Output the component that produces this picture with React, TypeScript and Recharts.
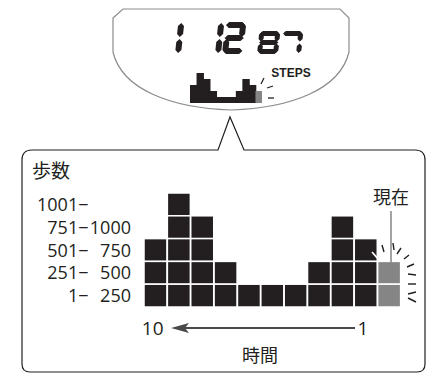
import { Bar, BarChart, XAxis, YAxis } from "recharts";

const INK = "#231f20";
const GRAY = "#858585";
const FONT = '"Noto Sans CJK JP", "Noto Sans", sans-serif';
const NUM_FONT = '"Open Sans", "Noto Sans", sans-serif';

// time slots, oldest (10) to current
const periods = ["10", "9", "8", "7", "6", "5", "4", "3", "2", "1", "現在"];
const stepLevels = [3, 5, 4, 2, 1, 1, 1, 2, 4, 3, 2];
const isCurrent = [false, false, false, false, false, false, false, false, false, false, true];

const rowTicks = [0.5, 1.5, 2.5, 3.5, 4.5];
const rangeLow = ["1−", "251−", "501−", "751−", "1001−"];
const rangeHigh = ["250", "500", "750", "1000", ""];
const shownPeriods = ["10", "1"];

const bigDigits = ["1", "1", "2"];
const smallDigits = ["8", "7"];

const data = periods.map((period, i) => ({ period, level: stepLevels[i], current: isCurrent[i] }));

const SEGMENTS: Record<string, string> = { "1": "bc", "2": "abged", "7": "abc", "8": "abcdefg" };

function hSeg(x1: number, x2: number, y: number, t: number) {
  return `${x1},${y} ${x1 + t / 2},${y - t / 2} ${x2 - t / 2},${y - t / 2} ${x2},${y} ${x2 - t / 2},${y + t / 2} ${x1 + t / 2},${y + t / 2}`;
}

function vSeg(x: number, y1: number, y2: number, t: number) {
  return `${x},${y1} ${x + t / 2},${y1 + t / 2} ${x + t / 2},${y2 - t / 2} ${x},${y2} ${x - t / 2},${y2 - t / 2} ${x - t / 2},${y1 + t / 2}`;
}

function SegDigit({ ch, x, y, w, h, t }: { ch: string; x: number; y: number; w: number; h: number; t: number }) {
  const g = 0.9;
  const segs: Record<string, string> = {
    a: hSeg(x + g, x + w - g, y + t / 2, t),
    b: vSeg(x + w - t / 2, y + g, y + h / 2 - g, t),
    c: vSeg(x + w - t / 2, y + h / 2 + g, y + h - g, t),
    d: hSeg(x + g, x + w - g, y + h - t / 2, t),
    e: vSeg(x + t / 2, y + h / 2 + g, y + h - g, t),
    f: vSeg(x + t / 2, y + g, y + h / 2 - g, t),
    g: hSeg(x + g, x + w - g, y + h / 2, t),
  };
  const base = y + h;
  return (
    <g transform={`translate(0,${base}) skewX(-6) translate(0,${-base})`}>
      {SEGMENTS[ch].split("").map((s) => (
        <polygon key={s} points={segs[s]} fill={INK} />
      ))}
    </g>
  );
}

function CellBar(props: any) {
  const { x, y, width, height, payload } = props;
  const n = payload.level;
  const cell = height / n;
  const fill = payload.current ? GRAY : INK;
  return (
    <g>
      {Array.from({ length: n }).map((_, i) => (
        <rect key={i} x={x} y={y + i * cell} width={width} height={cell} fill={fill} stroke="#fff" strokeWidth={1.5} />
      ))}
    </g>
  );
}

function RangeTick(props: any) {
  const { y, payload } = props;
  const i = rowTicks.indexOf(payload.value);
  return (
    <g fontFamily={NUM_FONT} fontSize={18} fill={INK}>
      <text x={88.5} y={y} dy="0.37em" textAnchor="end">{rangeLow[i]}</text>
      <text x={131} y={y} dy="0.37em" textAnchor="end">{rangeHigh[i]}</text>
    </g>
  );
}

function PeriodTick(props: any) {
  const { x, payload } = props;
  if (!shownPeriods.includes(payload.value)) return null;
  return (
    <text x={x - 3} y={335} textAnchor="middle" fontFamily={NUM_FONT} fontSize={19} fill={INK}>
      {payload.value}
    </text>
  );
}

const mainSparks = [
  [382, 245, 384, 252], [393, 243, 394, 250], [401, 248, 397, 254], [409, 255, 404, 259],
  [414, 264, 407, 267], [416, 275, 408, 274], [416, 284, 408, 284], [416, 292, 408, 294], [416, 302, 408, 298],
];
const miniSparks = [[261, 84, 264, 78], [267, 88, 273, 86], [268, 98, 274, 98]];

export default function App() {
  return (
    <div style={{ position: "absolute", left: 0, top: 0, width: 435, height: 378, background: "#fff" }}>
      <BarChart width={435} height={378} data={data} margin={{ top: 193, right: 34, bottom: 41, left: 14 }} barCategoryGap={0}>
        <XAxis dataKey="period" height={30} axisLine={false} tickLine={false} tick={<PeriodTick />} interval={0} />
        <YAxis type="number" domain={[0, 5]} ticks={rowTicks} interval={0} width={130} axisLine={false} tickLine={false} tick={<RangeTick />} />
        <Bar dataKey="level" shape={<CellBar />} isAnimationActive={false} />
      </BarChart>

      <div style={{ position: "absolute", left: 190, top: 73 }}>
        <BarChart width={72} height={30} data={data} margin={{ top: 0, right: 0, bottom: 0, left: 0 }} barCategoryGap={0}>
          <XAxis dataKey="period" hide />
          <YAxis type="number" domain={[0, 5]} hide />
          <Bar
            dataKey="level"
            isAnimationActive={false}
            shape={(p: any) => <rect x={p.x} y={p.y} width={p.width + 0.4} height={p.height} fill={p.payload.current ? GRAY : INK} />}
          />
        </BarChart>
      </div>

      <svg width={435} height={378} style={{ position: "absolute", left: 0, top: 0, pointerEvents: "none" }}>
        {/* watch display */}
        <path d="M123,9 L340,9 L349,18 L349,52 C340,90 290,108 231,110 C172,108 122,90 113,52 L113,18 Z" fill="none" stroke="#8c8c8c" strokeWidth={1.2} />
        {bigDigits.map((d, i) => (
          <SegDigit key={i} ch={d} x={[160, 200, 222][i]} y={22} w={21} h={32} t={6} />
        ))}
        {smallDigits.map((d, i) => (
          <SegDigit key={i} ch={d} x={[257, 280][i]} y={31} w={21} h={23} t={5} />
        ))}
        <text x={291} y={77} textAnchor="middle" fontFamily="Liberation Sans, Arial, sans-serif" fontWeight="bold" fontSize={12} fill={INK}>
          STEPS
        </text>
        {miniSparks.map(([x1, y1, x2, y2], i) => (
          <line key={i} x1={x1} y1={y1} x2={x2} y2={y2} stroke={INK} strokeWidth={1.3} />
        ))}

        {/* callout frame */}
        <path d="M244,150 L415,150 Q425,150 425,160 L425,364 Q425,372 417,372 L30,372 Q22,372 22,364 L22,160 Q22,150 32,150 L218,150 L230,117 Z" fill="none" stroke={INK} strokeWidth={1.2} />

        <text x={32} y={178} fontFamily={FONT} fontSize={19} fill={INK}>歩数</text>
        <text x={391} y={204} textAnchor="middle" fontFamily={FONT} fontSize={18} fill={INK}>現在</text>
        <line x1={391} y1={211} x2={391} y2={266} stroke={GRAY} strokeWidth={1.5} />
        <line x1={372} y1={252} x2={379} y2={260} stroke="#fff" strokeWidth={1.8} />
        {mainSparks.map(([x1, y1, x2, y2], i) => (
          <line key={i} x1={x1} y1={y1} x2={x2} y2={y2} stroke={INK} strokeWidth={1.4} />
        ))}

        <line x1={184} y1={328} x2={355} y2={328} stroke="#4a4a4a" strokeWidth={2} />
        <polygon points="171,328 189,323 185,328 189,333" fill="#4a4a4a" />
        <text x={260} y={362} textAnchor="middle" fontFamily={FONT} fontSize={18} fill={INK}>時間</text>
      </svg>
    </div>
  );
}
